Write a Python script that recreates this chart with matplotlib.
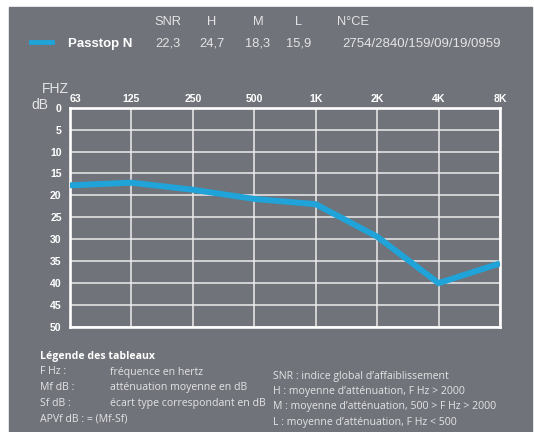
import matplotlib
matplotlib.use("Agg")
import matplotlib.pyplot as plt
from matplotlib.patches import Rectangle

# data
freqs = ["63", "125", "250", "500", "1K", "2K", "4K", "8K"]
atten = [17.7, 17.1, 18.7, 20.8, 22.0, 29.4, 40.0, 35.5]
db_ticks = [0, 5, 10, 15, 20, 25, 30, 35, 40, 45, 50]

product = "Passtop N"
head_names = ["SNR", "H", "M", "L"]
head_values = ["22,3", "24,7", "18,3", "15,9"]
ce_label = "N°CE"
ce_value = "2754/2840/159/09/19/0959"

legend_title = "Légende des tableaux"
legend_left = [("F Hz :", "fréquence en hertz"),
               ("Mf dB :", "atténuation moyenne en dB"),
               ("Sf dB :", "écart type correspondant en dB"),
               ("APVf dB : = (Mf-Sf)", "")]
legend_right = ["SNR : indice global d’affaiblissement",
                "H : moyenne d’atténuation, F Hz > 2000",
                "M : moyenne d’atténuation, 500 > F Hz > 2000",
                "L : moyenne d’atténuation, F Hz < 500"]

W, H = 534, 432
bg = "#707379"
blue = "#1fa3d8"
light = "#e4e4e6"

fig = plt.figure(figsize=(W / 100, H / 100), dpi=100)
fig.patch.set_facecolor("white")
fig.patches.append(Rectangle((9 / W, 0), (532 - 9) / W, 1 - 7 / H,
                             transform=fig.transFigure, color=bg, zorder=-10))


def px(x, y):
    return x / W, 1 - y / H


# header
hfont = ["Liberation Sans", "DejaVu Sans"]
fig.lines.append(plt.Line2D([31 / W, 52 / W], [1 - 42 / H] * 2, color=blue, lw=3.5,
                            transform=fig.transFigure))
fig.text(*px(68, 44), product, color="white", fontsize=9.5, fontweight="bold",
         family=hfont, va="center", ha="left")
centers = [168, 212, 258, 299]
for cx, name, val in zip(centers, head_names, head_values):
    fig.text(*px(cx, 22), name, color=light, fontsize=9.3, family=hfont,
             va="center", ha="center")
    fig.text(*px(cx, 44), val, color=light, fontsize=9.3, family=hfont,
             va="center", ha="center")
fig.text(*px(337, 22), ce_label, color=light, fontsize=9.3, family=hfont,
         va="center", ha="left")
fig.text(*px(342, 44), ce_value, color=light, fontsize=9.5, family=hfont,
         va="center", ha="left")

# chart
ax = fig.add_axes([70 / W, 1 - 327 / H, (500 - 70) / W, (327 - 107.7) / H])
ax.set_facecolor(bg)
x = list(range(len(freqs)))
ax.plot(x, atten, color=blue, lw=4.3, solid_capstyle="butt", solid_joinstyle="miter",
        zorder=3, clip_on=True)
ax.set_xlim(0, len(freqs) - 1)
ax.set_ylim(50, 0)
ax.set_xticks(x)
ax.set_xticklabels(freqs)
ax.set_yticks(db_ticks)
ax.xaxis.tick_top()
ax.tick_params(length=0, colors="white", labelsize=7.6)
ax.tick_params(axis="x", pad=3)
ax.tick_params(axis="y", pad=6)
for lab in ax.get_xticklabels() + ax.get_yticklabels():
    lab.set_fontweight("bold")
    lab.set_family("Liberation Sans")
ax.get_xticklabels()[0].set_horizontalalignment("left")
ax.grid(True, color="#ececec", lw=1.1)
for s in ax.spines.values():
    s.set_color("white")
    s.set_linewidth(1.9)

fig.text(*px(55, 89), "FHZ", color=light, fontsize=10, family=hfont,
         va="center", ha="center")
fig.text(*px(40, 105), "dB", color=light, fontsize=10, family=hfont,
         va="center", ha="center")

# legend text
lfont = ["Open Sans", "DejaVu Sans"]
fig.text(*px(40, 357), legend_title, color="white", fontsize=7.6, fontweight="bold",
         family=lfont, va="center", ha="left")
for i, (a, b) in enumerate(legend_left):
    y = 372 + i * 15.6
    fig.text(*px(40, y), a, color=light, fontsize=7.6, family=lfont, va="center", ha="left")
    if b:
        fig.text(*px(110, y), b, color=light, fontsize=7.6, family=lfont, va="center", ha="left")
for i, t in enumerate(legend_right):
    fig.text(*px(273, 376 + i * 15.4), t, color=light, fontsize=7.6, family=lfont,
             va="center", ha="left")

fig.savefig("out.png", dpi=100, facecolor=fig.get_facecolor())
